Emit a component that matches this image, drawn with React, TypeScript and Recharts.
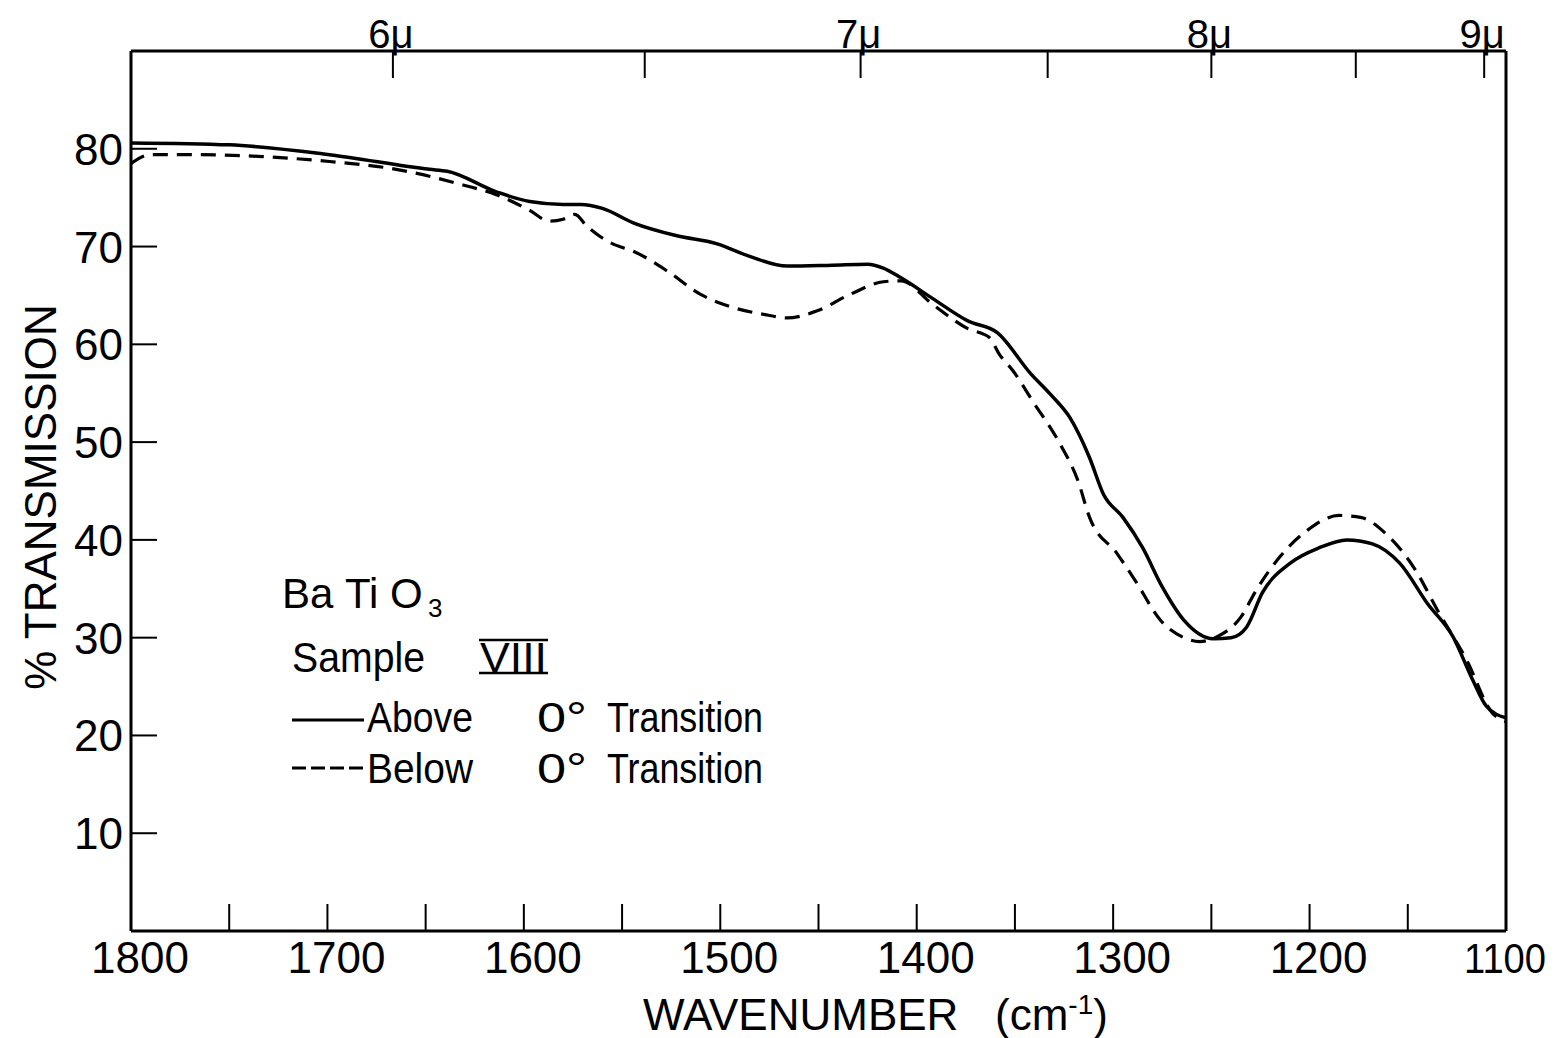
import React from 'react';
import { LineChart, Line, XAxis, YAxis, Legend, Label } from 'recharts';

const FONT = '"Liberation Sans", Arial, sans-serif';
const INK = '#000';

// Above 0° transition (solid)
const aboveWn = [1800, 1750, 1699, 1648, 1639, 1614, 1597, 1580, 1571, 1560, 1544, 1522, 1502, 1485, 1466, 1443, 1425, 1417, 1408, 1392, 1374, 1359, 1342, 1332, 1322, 1312, 1305, 1295, 1285, 1275, 1264, 1249, 1240, 1232, 1224, 1210, 1195, 1181, 1168, 1154, 1140, 1127, 1117, 1110, 1100];
const aboveT = [80.6, 80.4, 79.4, 77.9, 77.7, 75.6, 74.6, 74.3, 74.3, 73.9, 72.4, 71.1, 70.3, 69, 68, 68.1, 68.2, 67.8, 66.8, 64.7, 62.4, 61.2, 57, 54.9, 52.5, 48.4, 44.7, 42.3, 39.2, 35.2, 31.8, 29.9, 30, 31.1, 34.6, 37.6, 39.2, 40, 39.6, 37.6, 33.5, 30.1, 25.7, 23, 21.8];

// Below 0° transition (dashed)
const belowWn = [1800, 1790, 1766, 1733, 1699, 1665, 1631, 1614, 1597, 1587, 1580, 1574, 1568, 1561, 1555, 1544, 1527, 1510, 1494, 1476, 1466, 1451, 1434, 1417, 1408, 1392, 1374, 1363, 1358, 1351, 1341, 1327, 1318, 1312, 1298, 1288, 1276, 1264, 1256, 1247, 1235, 1227, 1215, 1201, 1185, 1174, 1161, 1147, 1134, 1120, 1107, 1100];
const belowT = [78.5, 79.4, 79.4, 79.2, 78.7, 77.9, 76.3, 75.3, 73.7, 72.6, 72.8, 73.3, 72.1, 71, 70.3, 69.5, 67.5, 65.1, 63.8, 63, 62.7, 63.4, 65.1, 66.4, 66.5, 64.1, 61.6, 60.7, 59, 57.3, 54.2, 49.8, 46.1, 42.3, 38.6, 35.6, 31.8, 30, 29.6, 30.1, 32.1, 34.9, 38.3, 41, 42.5, 42.3, 40.6, 37.2, 32.5, 27.7, 22.3, 21.4];

const wnTicks = [1800, 1750, 1700, 1650, 1600, 1550, 1500, 1450, 1400, 1350, 1300, 1250, 1200, 1150, 1100];
const microns = [6, 6.5, 7, 7.5, 8, 8.5, 9];
const yTicks = [10, 20, 30, 40, 50, 60, 70, 80];

const above = aboveWn.map((wn, i) => ({ wn, t: aboveT[i] }));
const below = belowWn.map((wn, i) => ({ wn, t: belowT[i] }));
const micronWn = microns.map((m) => 10000 / m);

const BottomTick = (props: any) => {
  const { x, y, payload } = props;
  const v = payload.value;
  const edge = v === 1800 || v === 1100;
  const last = v === 1100;
  return (
    <g>
      {!edge && <line x1={x} y1={y} x2={x} y2={y - 27} stroke={INK} strokeWidth={2} />}
      {v % 100 === 0 && (
        <text
          x={last ? x - 1 : x + 9}
          y={y + 42}
          textAnchor="middle"
          fontSize={last ? 42 : 44}
          fontFamily={FONT}
          fill={INK}
          textLength={last ? 82 : undefined}
          lengthAdjust="spacingAndGlyphs"
        >
          {v}
        </text>
      )}
    </g>
  );
};

const TopTick = (props: any) => {
  const { x, y, payload } = props;
  const m = Math.round((10000 / payload.value) * 10) / 10;
  return (
    <g>
      <line x1={x} y1={y} x2={x} y2={y + 27} stroke={INK} strokeWidth={2} />
      {Number.isInteger(m) && (
        <text x={x - 2} y={y - 3} textAnchor="middle" fontSize={40} fontFamily={FONT} fill={INK}>
          {m + 'μ'}
        </text>
      )}
    </g>
  );
};

const LeftTick = (props: any) => {
  const { x, y, payload } = props;
  return (
    <g>
      <line x1={x} y1={y} x2={x + 26} y2={y} stroke={INK} strokeWidth={2} />
      <text x={x - 8} y={y + 16} textAnchor="end" fontSize={44} fontFamily={FONT} fill={INK}>
        {payload.value}
      </text>
    </g>
  );
};

const RightTick = (props: any) => {
  const { x, y } = props;
  return <line x1={x} y1={y} x2={x - 26} y2={y} stroke={INK} strokeWidth={2} />;
};

const YTitle = () => (
  <text x={56} y={497} transform="rotate(-90 56 497)" textAnchor="middle" fontSize={44} fontFamily={FONT} fill={INK}>
    % TRANSMISSION
  </text>
);

const XTitle = () => (
  <text y={1030} fontSize={44} fontFamily={FONT} fill={INK}>
    <tspan x={643}>WAVENUMBER</tspan>
    <tspan x={995}>(cm</tspan>
    <tspan dy={-16} fontSize={28}>-1</tspan>
    <tspan dy={16}>)</tspan>
  </text>
);

const LegendBlock = (props: any) => {
  const items = props.payload || [];
  const txt = { fontSize: 42, fontFamily: FONT, fill: INK } as const;
  return (
    <svg width={520} height={240} style={{ display: 'block' }}>
      <text y={48} {...txt}>
        <tspan x={12}>Ba</tspan>
        <tspan x={75}>Ti</tspan>
        <tspan x={120}>O</tspan>
      </text>
      <text x={158} y={57} fontSize={26} fontFamily={FONT} fill={INK}>3</text>
      <text x={22} y={112} textLength={133} lengthAdjust="spacingAndGlyphs" {...txt}>Sample</text>
      <text x={210} y={112} textLength={67} lengthAdjust="spacingAndGlyphs" {...txt}>VIII</text>
      <line x1={209} y1={80} x2={278} y2={80} stroke={INK} strokeWidth={2.5} />
      <line x1={209} y1={113} x2={278} y2={113} stroke={INK} strokeWidth={2.5} />
      {items.map((it: any, i: number) => {
        const parts = String(it.value).split(' ');
        const yb = 172 + i * 51;
        const ly = 160 + i * 48;
        const dashed = (it.payload && it.payload.strokeDasharray) || i === 1;
        return (
          <g key={i}>
            <line x1={22} y1={ly} x2={94} y2={ly} stroke={INK} strokeWidth={3} strokeDasharray={dashed ? '14 5' : undefined} />
            <text x={97} y={yb} textLength={106} lengthAdjust="spacingAndGlyphs" {...txt}>{parts[0]}</text>
            <text x={267} y={yb} textLength={50} lengthAdjust="spacingAndGlyphs" {...txt}>{parts[1]}</text>
            <text x={337} y={yb} textLength={156} lengthAdjust="spacingAndGlyphs" {...txt}>{parts[2]}</text>
          </g>
        );
      })}
    </svg>
  );
};

const App = () => {
  return (
    <div style={{ position: 'absolute', left: 0, top: 0, background: '#fff' }}>
      <LineChart width={1555} height={1038} margin={{ top: 0, right: 0, bottom: 0, left: 0 }}>
        <XAxis
          xAxisId="bottom"
          dataKey="wn"
          type="number"
          domain={[1100, 1800]}
          reversed
          allowDataOverflow
          ticks={wnTicks}
          interval={0}
          height={107}
          tickSize={0}
          tickMargin={0}
          tickLine={false}
          axisLine={{ stroke: INK, strokeWidth: 3 }}
          tick={<BottomTick />}
        >
          <Label content={<XTitle />} />
        </XAxis>
        <XAxis
          xAxisId="top"
          orientation="top"
          dataKey="wn"
          type="number"
          domain={[1100, 1800]}
          reversed
          allowDataOverflow
          ticks={micronWn}
          interval={0}
          height={51}
          tickSize={0}
          tickMargin={0}
          tickLine={false}
          axisLine={{ stroke: INK, strokeWidth: 3 }}
          tick={<TopTick />}
        />
        <YAxis
          yAxisId="left"
          type="number"
          domain={[0, 90]}
          ticks={yTicks}
          interval={0}
          width={131}
          tickSize={0}
          tickMargin={0}
          tickLine={false}
          axisLine={{ stroke: INK, strokeWidth: 3 }}
          tick={<LeftTick />}
        >
          <Label content={<YTitle />} />
        </YAxis>
        <YAxis
          yAxisId="right"
          orientation="right"
          type="number"
          domain={[0, 90]}
          ticks={yTicks}
          interval={0}
          width={49}
          tickSize={0}
          tickMargin={0}
          tickLine={false}
          axisLine={{ stroke: INK, strokeWidth: 3 }}
          tick={<RightTick />}
        />
        <Legend
          layout="vertical"
          align="center"
          verticalAlign="middle"
          wrapperStyle={{ left: 270, top: 560, width: 520, height: 240 }}
          content={<LegendBlock />}
        />
        <Line
          xAxisId="bottom"
          yAxisId="left"
          data={above}
          dataKey="t"
          name="Above 0° Transition"
          type="monotone"
          stroke={INK}
          strokeWidth={3.5}
          dot={false}
          activeDot={false}
          isAnimationActive={false}
        />
        <Line
          xAxisId="bottom"
          yAxisId="left"
          data={below}
          dataKey="t"
          name="Below 0° Transition"
          type="monotone"
          stroke={INK}
          strokeWidth={3.2}
          strokeDasharray="15 9"
          dot={false}
          activeDot={false}
          isAnimationActive={false}
        />
      </LineChart>
    </div>
  );
};

export default App;
